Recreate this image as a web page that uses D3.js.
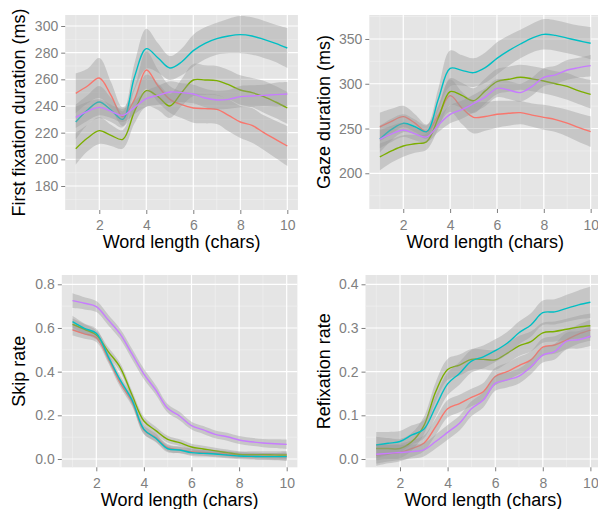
<!DOCTYPE html>
<html><head><meta charset="utf-8">
<script src="https://cdn.jsdelivr.net/npm/d3@7"></script>
<style>body{margin:0;background:#fff}svg{display:block}text{font-family:"Liberation Sans",Arial,sans-serif}</style>
</head><body><svg id="c" width="598" height="509"></svg>
<script>
const xs = [1,1.5,2,2.5,3,3.5,4,4.5,5,5.5,6,6.5,7,7.5,8,8.5,9,9.5,10];
const groups = ["a","b","c","d"];
const colors = ["#F8766D","#7CAE00","#00BFC4","#C77CFF"];
const xTicks = [2,4,6,8,10];
const xMinor = [1,3,5,7,9];

// Panel 1: First fixation duration
const ffd_a = [249.5,255,261,248,232,245,267,255,245,241,238.5,238,237.5,233,228,225.5,220,215,210];
const ffd_b = [208,216,221.5,218,215,236,251.5,247,240,250,259.5,259.5,259,256,252,250,247,243,238.5];
const ffd_c = [228,237,243,237,230,262,283,276,268.5,273,281.5,287,290.5,292.5,293.5,292.5,290,287,283.5];
const ffd_d = [231.5,236,239,236,233,239,245.5,248,250.5,250,249,246,244.5,245,247,247.5,248,248.5,249];
const ffd_se_a = [15,13,15,10,7,9,14,12,10,10,11,11,11,12,12,13,13,14,15];
const ffd_se_b = [12,10,10,8,7,9,12,10,9,10,12,11,11,11,11,11,12,12,12];
const ffd_se_c = [13,11,12,9,6,10,15,11,9,10,12,12,12,13,14,14,14,14,15];
const ffd_se_d = [8,7,6,5,5,5,6,7,8,7,7,7,7,7,8,8,8,9,9];
const ffd_ticks = [180,200,220,240,260,280,300];
const ffd_minor = [170,190,210,230,250,270,290];

// Panel 2: Gaze duration
const gd_a = [251.7,258,263.3,256,246.5,265,286.7,273,262.5,263.5,265.9,267,267.7,265,262.5,260,256,251,246.5];
const gd_b = [218.2,225,230.5,233,235.4,262,291.2,287,281.1,292,302.4,305,307.2,305.5,303.1,300,297,292,288.2];
const gd_c = [238.3,249,255.8,252,246.5,283,317.2,315,312.4,318,328.4,337,344.4,351,355.2,354,351,348,345.2];
const gd_d = [238,244,248.4,244,240.6,254,265.9,271,277.8,285,294.9,293,290.1,297,307.2,310,315.4,318,320.2];
const gd_se_a = [16,14,12,10,8,11,18,18,18,16,15,14,13,13,14,14,15,16,17];
const gd_se_b = [15,13,12,10,9,12,15,14,14,14,14,14,14,14,14,14,15,15,16];
const gd_se_c = [15,12,10,8,7,12,20,17,16,17,18,17,16,16,17,17,17,17,18];
const gd_se_d = [10,9,8,7,6,8,10,10,10,10,10,10,10,10,10,10,11,11,12];
const gd_ticks = [200,250,300,350];
const gd_minor = [175,225,275,325,375];

// Panel 3: Skip rate
const sr_a = [0.591,0.573,0.556,0.461,0.350,0.263,0.133,0.098,0.052,0.042,0.034,0.030,0.026,0.022,0.018,0.015,0.013,0.012,0.011];
const sr_b = [0.617,0.594,0.568,0.492,0.420,0.293,0.174,0.130,0.090,0.075,0.055,0.046,0.037,0.029,0.021,0.020,0.020,0.019,0.018];
const sr_c = [0.629,0.598,0.576,0.469,0.362,0.270,0.136,0.095,0.047,0.041,0.029,0.026,0.023,0.018,0.014,0.012,0.011,0.011,0.011];
const sr_d = [0.725,0.713,0.698,0.637,0.573,0.481,0.389,0.316,0.232,0.197,0.153,0.133,0.113,0.102,0.087,0.079,0.073,0.070,0.067];
const sr_se_a = [0.025,0.022,0.02,0.02,0.02,0.02,0.02,0.018,0.016,0.015,0.015,0.015,0.015,0.015,0.015,0.015,0.015,0.016,0.018];
const sr_se_b = [0.026,0.023,0.021,0.02,0.02,0.02,0.02,0.018,0.016,0.015,0.015,0.015,0.015,0.015,0.015,0.015,0.016,0.017,0.019];
const sr_se_c = [0.027,0.023,0.021,0.02,0.02,0.02,0.02,0.018,0.016,0.015,0.015,0.015,0.015,0.015,0.015,0.015,0.016,0.017,0.019];
const sr_se_d = [0.034,0.028,0.025,0.024,0.024,0.024,0.024,0.022,0.02,0.019,0.018,0.018,0.018,0.018,0.018,0.018,0.019,0.02,0.022];
const sr_ticks = [0.0,0.2,0.4,0.6,0.8];
const sr_minor = [0.1,0.3,0.5,0.7];

// Panel 4: Refixation rate
const rr_a = [0.009,0.012,0.015,0.024,0.036,0.074,0.115,0.127,0.141,0.154,0.189,0.200,0.214,0.227,0.256,0.261,0.273,0.286,0.295];
const rr_b = [0.024,0.024,0.024,0.040,0.076,0.154,0.205,0.215,0.228,0.228,0.227,0.242,0.259,0.269,0.289,0.292,0.297,0.302,0.305];
const rr_c = [0.032,0.036,0.040,0.055,0.068,0.120,0.172,0.196,0.224,0.234,0.248,0.265,0.289,0.307,0.335,0.337,0.345,0.353,0.359];
const rr_d = [0.011,0.013,0.015,0.017,0.021,0.040,0.061,0.082,0.115,0.135,0.173,0.181,0.190,0.211,0.238,0.246,0.270,0.273,0.281];
const rr_se_a = [0.025,0.022,0.02,0.019,0.018,0.019,0.02,0.02,0.02,0.02,0.02,0.02,0.02,0.02,0.02,0.02,0.021,0.022,0.024];
const rr_se_b = [0.027,0.024,0.022,0.02,0.02,0.022,0.024,0.024,0.024,0.023,0.023,0.023,0.023,0.023,0.023,0.023,0.024,0.026,0.028];
const rr_se_c = [0.03,0.026,0.024,0.022,0.021,0.024,0.026,0.026,0.026,0.026,0.026,0.026,0.026,0.027,0.028,0.029,0.031,0.033,0.036];
const rr_se_d = [0.022,0.019,0.017,0.016,0.015,0.016,0.017,0.017,0.017,0.017,0.017,0.017,0.017,0.017,0.017,0.018,0.019,0.02,0.022];
const rr_ticks = [0.0,0.1,0.2,0.3,0.4];
const rr_minor = [0.05,0.15,0.25,0.35];

const xTitle = "Word length (chars)";

const panels = [
  {title:"First fixation duration (ms)", series:[ffd_a,ffd_b,ffd_c,ffd_d], se:[ffd_se_a,ffd_se_b,ffd_se_c,ffd_se_d],
   ticks:ffd_ticks, minor:ffd_minor, fmt:d3.format("d"),
   xr:[65.2,297.9], yd:[162,308.25], yr:[210,15], ytx:25, xlab:230, xtl:248},
  {title:"Gaze duration (ms)", series:[gd_a,gd_b,gd_c,gd_d], se:[gd_se_a,gd_se_b,gd_se_c,gd_se_d],
   ticks:gd_ticks, minor:gd_minor, fmt:d3.format("d"),
   xr:[369.3,601.2], yd:[160.1,376.8], yr:[209,15], ytx:330, xlab:230, xtl:248},
  {title:"Skip rate", series:[sr_a,sr_b,sr_c,sr_d], se:[sr_se_a,sr_se_b,sr_se_c,sr_se_d],
   ticks:sr_ticks, minor:sr_minor, fmt:d3.format(".1f"),
   xr:[61.8,297.4], yd:[-0.038,0.8426], yr:[467.3,275], ytx:25, xlab:488, xtl:505.5},
  {title:"Refixation rate", series:[rr_a,rr_b,rr_c,rr_d], se:[rr_se_a,rr_se_b,rr_se_c,rr_se_d],
   ticks:rr_ticks, minor:rr_minor, fmt:d3.format(".1f"),
   xr:[365.5,601.1], yd:[-0.019,0.4213], yr:[467.3,275], ytx:330, xlab:488, xtl:505.5}
];

const svg = d3.select("#c");
panels.forEach((p,pi)=>{
  const x = d3.scaleLinear().domain([0.55,10.45]).range(p.xr);
  const y = d3.scaleLinear().domain(p.yd).range(p.yr);
  const g = svg.append("g");
  const clipId = "clip"+pi;
  g.append("clipPath").attr("id",clipId).append("rect")
    .attr("x",p.xr[0]).attr("y",p.yr[1]).attr("width",p.xr[1]-p.xr[0]).attr("height",p.yr[0]-p.yr[1]);
  g.append("rect").attr("x",p.xr[0]).attr("y",p.yr[1]).attr("width",p.xr[1]-p.xr[0]).attr("height",p.yr[0]-p.yr[1]).attr("fill","#E5E5E5");
  const grid = g.append("g");
  p.minor.forEach(v=>grid.append("line").attr("x1",p.xr[0]).attr("x2",p.xr[1]).attr("y1",y(v)).attr("y2",y(v)).attr("stroke","#F2F2F2").attr("stroke-width",0.6));
  xMinor.forEach(v=>grid.append("line").attr("y1",p.yr[0]).attr("y2",p.yr[1]).attr("x1",x(v)).attr("x2",x(v)).attr("stroke","#F2F2F2").attr("stroke-width",0.6));
  p.ticks.forEach(v=>grid.append("line").attr("x1",p.xr[0]).attr("x2",p.xr[1]).attr("y1",y(v)).attr("y2",y(v)).attr("stroke","#FFFFFF").attr("stroke-width",1.2));
  xTicks.forEach(v=>grid.append("line").attr("y1",p.yr[0]).attr("y2",p.yr[1]).attr("x1",x(v)).attr("x2",x(v)).attr("stroke","#FFFFFF").attr("stroke-width",1.2));

  const data = p.series.map((s,si)=>xs.map((xv,i)=>({x:xv,y:s[i],se:p.se[si][i]})));
  const area = d3.area().x(d=>x(d.x)).y0(d=>y(d.y-d.se)).y1(d=>y(d.y+d.se)).curve(d3.curveCatmullRom.alpha(0.5));
  const line = d3.line().x(d=>x(d.x)).y(d=>y(d.y)).curve(d3.curveCatmullRom.alpha(0.5));
  const marks = g.append("g").attr("clip-path",`url(#${clipId})`);
  data.forEach((d,si)=>{
    marks.append("path").attr("d",area(d)).attr("fill","#999999").attr("fill-opacity",0.4);
    marks.append("path").attr("d",line(d)).attr("fill","none").attr("stroke",colors[si]).attr("stroke-width",1.4);
  });

  // axes
  const yAxis = d3.axisLeft(y).tickValues(p.ticks).tickFormat(p.fmt).tickSize(4).tickPadding(3);
  const ya = g.append("g").attr("transform",`translate(${p.xr[0]},0)`).call(yAxis);
  const xAxis = d3.axisBottom(x).tickValues(xTicks).tickFormat(d3.format("d")).tickSize(4).tickPadding(2);
  const xa = g.append("g").attr("transform",`translate(0,${p.yr[0]})`).call(xAxis);
  [ya,xa].forEach(a=>{
    a.select(".domain").remove();
    a.selectAll(".tick line").attr("stroke","#7F7F7F").attr("stroke-width",1);
    a.selectAll(".tick text").attr("fill","#7F7F7F").style("font-size","14px").style("font-family","'Liberation Sans',Arial,sans-serif");
  });
  xa.selectAll(".tick text").attr("dy",null).attr("y",p.xlab-p.yr[0]);

  g.append("text").attr("x",(p.xr[0]+p.xr[1])/2).attr("y",p.xtl).attr("text-anchor","middle")
    .style("font-size","18px").attr("fill","#000").text(xTitle);
  const cy = (p.yr[0]+p.yr[1])/2;
  g.append("text").attr("transform",`translate(${p.ytx},${cy}) rotate(-90)`).attr("text-anchor","middle")
    .style("font-size","18px").attr("fill","#000").text(p.title);
});
</script></body></html>
